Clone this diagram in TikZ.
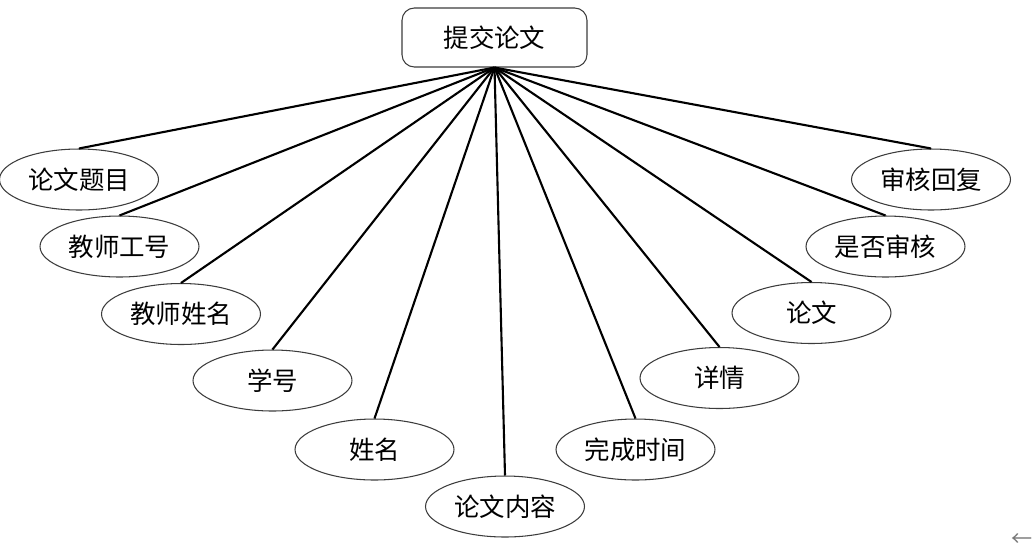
\documentclass[tikz,border=0pt]{standalone}
\usepackage{fontspec}
\setmainfont{Noto Sans CJK SC}
\usepackage{xcolor}
\usetikzlibrary{shapes.geometric}
\definecolor{outline}{RGB}{60,60,60}
\definecolor{hint}{RGB}{120,120,120}

\begin{document}
\begin{tikzpicture}[
    x=0.02cm, y=-0.02cm,
    entity/.style={draw=outline, rounded corners=7pt, line width=0.6pt, minimum width=3.7cm, minimum height=1.18cm, inner sep=0pt, font=\fontsize{14.5}{17}\selectfont},
    attr/.style={draw=outline, fill=white, ellipse, line width=0.6pt, minimum width=3.18cm, minimum height=1.22cm, inner sep=0pt, font=\fontsize{14.5}{17}\selectfont},
    link/.style={black, line width=1.2pt}
]
\useasboundingbox (0,0) rectangle (1034,549);

% entity
\node[entity] (submit) at (494.5, 37.5) {提交论文};

% attributes
\foreach \n/\x/\y/\t in {title/79/179.5/论文题目, tno/119.5/246.5/教师工号, tname/181/314/教师姓名,
    sno/272.5/380.5/学号, sname/374.5/449.5/姓名, content/505/506.5/论文内容,
    finish/635.5/449.5/完成时间, detail/719.5/378/详情, paper/811.5/313/论文,
    check/885.5/246.5/是否审核, reply/931/179.5/审核回复} {
    \node[attr] (\n) at (\x, \y) {\t};
    \draw[link] (submit.south) -- (\n.north);
}

\node[font=\fontsize{12}{14}\selectfont, text=hint, inner sep=0pt] (back) at (1022, 540) {←};

\end{tikzpicture}
\end{document}
